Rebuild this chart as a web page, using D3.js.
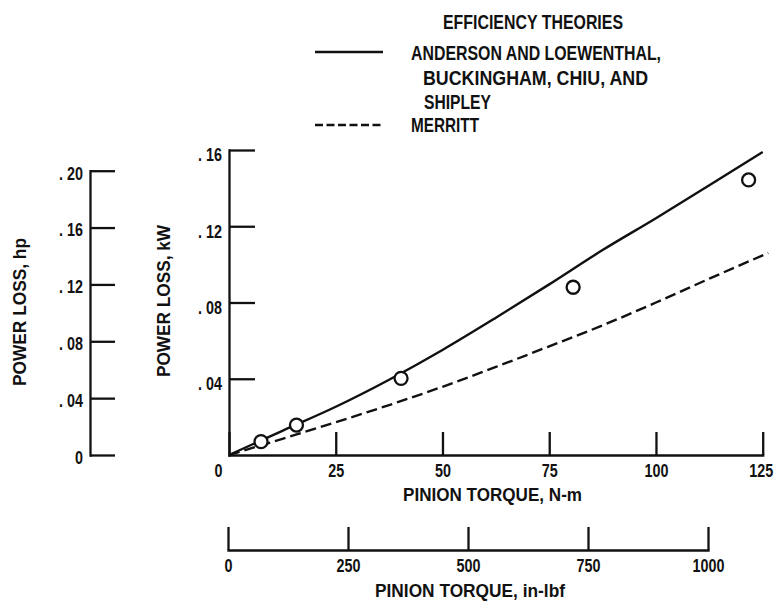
<!DOCTYPE html>
<html>
<head>
<meta charset="utf-8">
<script src="https://cdn.jsdelivr.net/npm/d3@7"></script>
<style>
  html, body { margin: 0; padding: 0; background: #fff; }
  svg { display: block; }
  text { font-family: "Liberation Sans", Arial, sans-serif; font-weight: bold; fill: #111; }
</style>
</head>
<body>
<svg id="chart" width="775" height="601"></svg>
<script>
// ---- data ----
const solidTorque = [0, 12.5, 25, 37.5, 50, 62.5, 75, 87.5, 100, 112.5, 125];
const solidLoss   = [0, 0.0127, 0.0253, 0.0395, 0.0551, 0.0720, 0.0895, 0.1075, 0.1242, 0.1415, 0.159];
const dashTorque  = [0, 12.5, 25, 37.5, 50, 62.5, 75, 87.5, 100, 112.5, 126.3];
const dashLoss    = [0, 0.0085, 0.0172, 0.0262, 0.0358, 0.0462, 0.0570, 0.0680, 0.0800, 0.0925, 0.106];
const expTorque   = [7.5, 15.8, 40.3, 80.6, 121.7];
const expLoss     = [0.0070, 0.0157, 0.0402, 0.0880, 0.1443];

const nmTicks  = [0, 25, 50, 75, 100, 125];
const inTicks  = [0, 250, 500, 750, 1000];
const kwTicks  = [0.04, 0.08, 0.12, 0.16];
const hpTicks  = [0, 0.04, 0.08, 0.12, 0.16, 0.20];

const legendTitle = "EFFICIENCY THEORIES";
const legendSolid = ["ANDERSON AND LOEWENTHAL,", "BUCKINGHAM, CHIU, AND", "SHIPLEY"];
const legendDash  = ["MERRITT"];

const xTitle1 = "PINION TORQUE, N-m";
const xTitle2 = "PINION TORQUE, in-lbf";
const yTitleKw = "POWER LOSS, kW";
const yTitleHp = "POWER LOSS, hp";

// ---- layout ----
const svg = d3.select("#chart");
const SW = 2.3;
const FONT = '"Liberation Sans", Arial, sans-serif';
const SX = 0.82;           // horizontal condensing of tick labels
const TFS = 17.5;          // tick label font size

const x   = d3.scaleLinear().domain([0, 125]).range([229, 762.7]);
const y   = d3.scaleLinear().domain([0, 0.16]).range([455, 150]);
const yHp = d3.scaleLinear().domain([0, 0.20]).range([455, 170.7]);
const xIn = d3.scaleLinear().domain([0, 1000]).range([228, 708]);

const decFmt = d => d === 0 ? "0" : ". " + d3.format(".2f")(d).slice(2);
const intFmt = d3.format("d");

function styleAxis(g) {
  g.selectAll("path.domain").attr("stroke", "#111").attr("stroke-width", SW).attr("stroke-linecap", "square");
  g.selectAll(".tick line").attr("stroke", "#111").attr("stroke-width", SW);
  g.selectAll(".tick text").attr("font-size", TFS).attr("fill", "#111")
    .attr("font-family", FONT).attr("font-weight", "bold")
    .attr("transform", `scale(${SX},1)`);
}

// main kW axis
const gKw = svg.append("g").attr("transform", `translate(${x(0)},0)`)
  .call(d3.axisLeft(y).tickValues(kwTicks).tickSize(-26).tickSizeOuter(0).tickPadding(7 / SX).tickFormat(decFmt));
styleAxis(gKw);
gKw.selectAll(".tick text").attr("dy", "0.62em");

// hp axis
const gHp = svg.append("g").attr("transform", "translate(90,0)")
  .call(d3.axisLeft(yHp).tickValues(hpTicks).tickSize(-25).tickSizeOuter(0).tickPadding(7 / SX).tickFormat(decFmt));
styleAxis(gHp);
gHp.selectAll(".tick text").attr("dy", "0.48em");

// N-m axis
const gNm = svg.append("g").attr("transform", `translate(0,${y(0)})`)
  .call(d3.axisBottom(x).tickValues(nmTicks).tickSize(-23).tickSizeOuter(0).tickPadding(9.5).tickFormat(intFmt));
styleAxis(gNm);
gNm.selectAll(".tick text").filter(d => d === 0).attr("dx", -11 / SX);
gNm.selectAll(".tick text").filter(d => d === 125).attr("dx", -2 / SX);

// in-lbf axis
const gIn = svg.append("g").attr("transform", "translate(0,550)")
  .call(d3.axisBottom(xIn).tickValues(inTicks).tickSize(-23).tickSizeOuter(0).tickPadding(10).tickFormat(intFmt));
styleAxis(gIn);

// axis titles
function title(sel, len) {
  return sel.attr("text-anchor", "middle").attr("font-size", 18)
    .attr("textLength", len).attr("lengthAdjust", "spacingAndGlyphs");
}
title(svg.append("text").attr("x", 492.5).attr("y", 501), 179).text(xTitle1);
title(svg.append("text").attr("x", 470).attr("y", 596.5), 190).text(xTitle2);
title(svg.append("text").attr("transform", "translate(169.5,301) rotate(-90)"), 152).text(yTitleKw);
title(svg.append("text").attr("transform", "translate(26,312) rotate(-90)"), 148).text(yTitleHp);

// data lines
const line = d3.line().x(d => x(d[0])).y(d => y(d[1])).curve(d3.curveMonotoneX);
svg.append("path").datum(solidTorque.map((t, i) => [t, solidLoss[i]]))
  .attr("d", line).attr("fill", "none").attr("stroke", "#111").attr("stroke-width", 2.4);
svg.append("path").datum(dashTorque.map((t, i) => [t, dashLoss[i]]))
  .attr("d", line).attr("fill", "none").attr("stroke", "#111").attr("stroke-width", 2.4)
  .attr("stroke-dasharray", "11,5");

// experimental points
svg.append("g").selectAll("circle").data(expTorque.map((t, i) => [t, expLoss[i]])).join("circle")
  .attr("cx", d => x(d[0])).attr("cy", d => y(d[1])).attr("r", 6.5)
  .attr("fill", "#fff").attr("stroke", "#111").attr("stroke-width", 2.3);

// legend
const lg = svg.append("g");
function ltext(xp, yp, len, s) {
  lg.append("text").attr("x", xp).attr("y", yp).attr("font-size", 20)
    .attr("textLength", len).attr("lengthAdjust", "spacingAndGlyphs").text(s);
}
ltext(443, 28.5, 180, legendTitle);
lg.append("line").attr("x1", 315).attr("x2", 383).attr("y1", 52).attr("y2", 52)
  .attr("stroke", "#111").attr("stroke-width", 2.3);
const solidX = [411, 423, 424];
const solidLen = [250, 225, 67];
const solidY = [59.5, 85, 108.5];
legendSolid.forEach((s, i) => ltext(solidX[i], solidY[i], solidLen[i], s));
lg.append("line").attr("x1", 315).attr("x2", 383).attr("y1", 125).attr("y2", 125)
  .attr("stroke", "#111").attr("stroke-width", 2.3).attr("stroke-dasharray", "8,3.5");
ltext(411, 132, 68, legendDash[0]);
</script>
</body>
</html>
